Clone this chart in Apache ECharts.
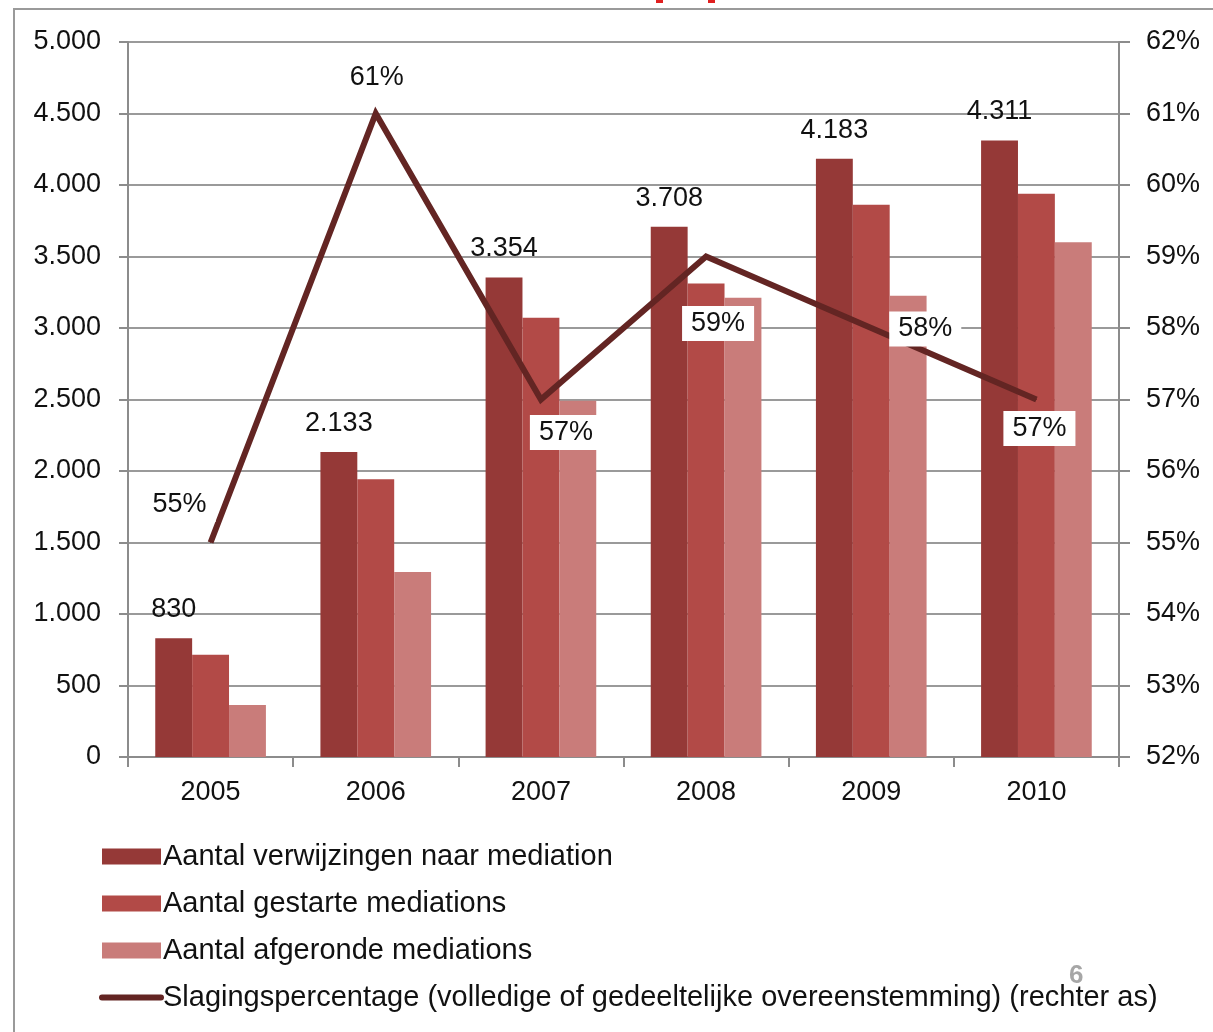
<!DOCTYPE html>
<html>
<head>
<meta charset="utf-8">
<script src="https://cdn.jsdelivr.net/npm/echarts@6/dist/echarts.min.js"></script>
<style>
html,body{margin:0;padding:0;background:#fff;}
#chart{width:1213px;height:1032px;}
</style>
</head>
<body>
<div id="chart"></div>
<script>
const years = ['2005', '2006', '2007', '2008', '2009', '2010'];
const verwijzingen = [830, 2133, 3354, 3708, 4183, 4311];
const gestart = [715, 1942, 3072, 3312, 3862, 3938];
const afgerond = [364, 1294, 2492, 3212, 3226, 3600];
const slaging = [55, 61, 57, 59, 58, 57];
const seriesNames = [
  'Aantal verwijzingen naar mediation',
  'Aantal gestarte mediations',
  'Aantal afgeronde mediations',
  'Slagingspercentage (volledige of gedeeltelijke overeenstemming) (rechter as)'
];
const leftTicks = {min: 0, max: 5000, interval: 500};
const rightTicks = {min: 52, max: 62, interval: 1};

const FONT = '"Liberation Sans", Arial, sans-serif';
const fmtNum = v => String(v).replace(/\B(?=(\d{3})+(?!\d))/g, '.');

// label offsets for the percentage labels (layout only)
const lineLabelOffsets = [[-31, -38], [1, -36], [25, 33], [12, 67], [54, 1], [3, 29]];

const chart = echarts.init(document.getElementById('chart'), null, {renderer: 'canvas'});
const option = {
  backgroundColor: '#fff',
  animation: false,
  textStyle: {fontFamily: FONT},
  grid: {left: 128, right: 94, top: 42, bottom: 275, containLabel: false},
  legend: {
    orient: 'vertical',
    left: 94,
    top: 837,
    itemWidth: 59,
    itemHeight: 16,
    itemGap: 18,
    data: [
      {name: seriesNames[0], icon: 'rect'},
      {name: seriesNames[1], icon: 'rect'},
      {name: seriesNames[2], icon: 'rect'},
      {name: seriesNames[3], itemStyle: {opacity: 0}, lineStyle: {width: 6, cap: 'round', color: '#632523'}}
    ],
    textStyle: {fontFamily: FONT, fontSize: 29, color: '#111', padding: [0, 0, 0, -3]}
  },
  xAxis: {
    type: 'category',
    data: years,
    axisLine: {lineStyle: {color: '#8c8c8c', width: 2}},
    axisTick: {show: true, length: 10, lineStyle: {color: '#8c8c8c', width: 2}},
    axisLabel: {fontFamily: FONT, fontSize: 27, color: '#111', margin: 22}
  },
  yAxis: [
    {
      type: 'value',
      position: 'left',
      min: leftTicks.min, max: leftTicks.max, interval: leftTicks.interval,
      axisLine: {show: true, lineStyle: {color: '#8c8c8c', width: 2}},
      axisTick: {show: true, length: 9, lineStyle: {color: '#8c8c8c', width: 2}},
      axisLabel: {fontFamily: FONT, fontSize: 27, color: '#111', margin: 27, formatter: v => fmtNum(v)},
      splitLine: {show: true, lineStyle: {color: '#9a9a9a', width: 2}}
    },
    {
      type: 'value',
      position: 'right',
      min: rightTicks.min, max: rightTicks.max, interval: rightTicks.interval,
      axisLine: {show: true, lineStyle: {color: '#8c8c8c', width: 2}},
      axisTick: {show: true, length: 11, lineStyle: {color: '#8c8c8c', width: 2}},
      axisLabel: {fontFamily: FONT, fontSize: 27, color: '#111', margin: 27, formatter: '{value}%'},
      splitLine: {show: false}
    }
  ],
  series: [
    {
      name: seriesNames[0], type: 'bar', data: verwijzingen,
      barGap: '0%', barCategoryGap: '33%',
      itemStyle: {color: '#953937'},
      label: {show: true, position: 'top', distance: 15, fontFamily: FONT, fontSize: 27, color: '#111',
        formatter: p => fmtNum(p.value)}
    },
    {
      name: seriesNames[1], type: 'bar', data: gestart,
      barGap: '0%', barCategoryGap: '33%',
      itemStyle: {color: '#b24a47'}
    },
    {
      name: seriesNames[2], type: 'bar', data: afgerond,
      barGap: '0%', barCategoryGap: '33%',
      itemStyle: {color: '#c97c7a'}
    },
    {
      name: seriesNames[3], type: 'line', yAxisIndex: 1, z: 5,
      data: slaging.map((v, i) => ({
        value: v,
        label: {offset: lineLabelOffsets[i]}
      })),
      symbol: 'circle', symbolSize: 1, showSymbol: true,
      itemStyle: {color: '#632523'},
      lineStyle: {color: '#632523', width: 6, join: 'miter'},
      label: {
        show: true, position: 'inside',
        fontFamily: FONT, fontSize: 27, color: '#111',
        backgroundColor: '#fff', padding: [5, 9, 3, 9],
        formatter: '{c}%'
      },
      emphasis: {disabled: true}
    }
  ],
  graphic: [
    {type: 'rect', silent: true, z: -1,
      shape: {x: 14, y: 9, width: 1260, height: 1100},
      style: {fill: 'none', stroke: '#9a9a9a', lineWidth: 2}},
    {type: 'rect', silent: true, shape: {x: 656, y: 0, width: 7, height: 3}, style: {fill: '#e02020'}},
    {type: 'rect', silent: true, shape: {x: 708, y: 0, width: 7, height: 3}, style: {fill: '#e02020'}},
    {type: 'text', silent: true, left: 1069, top: 963,
      style: {text: '6', fontFamily: FONT, fontSize: 26, fontWeight: 'bold', fill: '#a6a6a6'}}
  ]
};
chart.setOption(option);
</script>
</body>
</html>
